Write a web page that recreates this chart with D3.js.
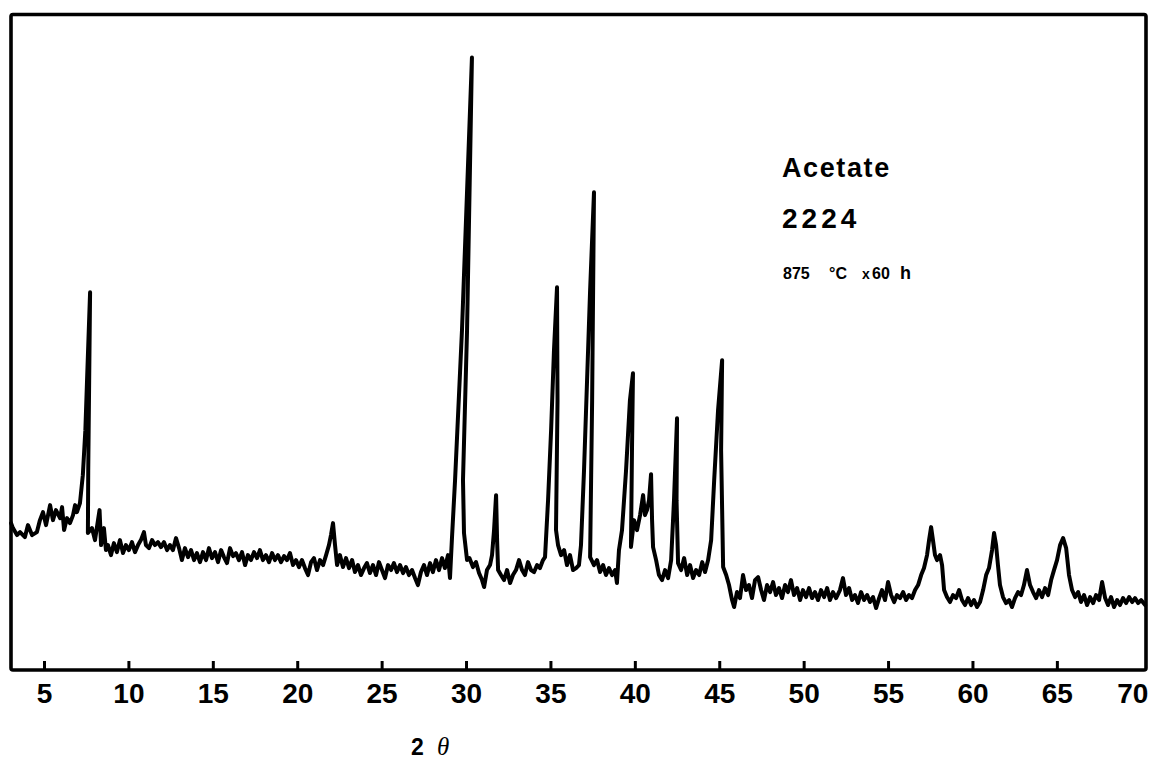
<!DOCTYPE html>
<html>
<head>
<meta charset="utf-8">
<script src="https://cdn.jsdelivr.net/npm/d3@7"></script>
<style>
  html, body { margin: 0; padding: 0; background: #fff; }
  svg { display: block; }
</style>
</head>
<body>
<svg id="chart" width="1156" height="762"></svg>
<script>
// ---- data ----
const twoTheta = [
  3.05,3.16,3.40,3.58,3.87,4.05,4.29,4.58,4.76,4.94,5.12,5.36,5.53,5.71,5.95,6.07,6.19,6.36,6.54,6.72,6.84,6.95,7.13,7.30,7.45,7.55,7.73,7.62,7.60,
  7.84,8.02,8.20,8.29,8.38,8.55,8.67,8.79,8.97,9.14,9.32,9.50,9.68,9.85,10.03,10.21,10.39,10.57,10.74,10.92,11.04,11.22,11.40,11.57,11.75,11.93,
  12.11,12.29,12.46,12.64,12.82,13.00,13.17,13.35,13.53,13.71,13.89,14.06,14.24,14.42,14.60,14.77,14.95,15.13,15.31,15.49,15.66,15.84,16.02,16.20,
  16.37,16.55,16.73,16.91,17.08,17.26,17.44,17.62,17.79,17.97,18.15,18.33,18.51,18.68,18.86,19.04,19.22,19.39,19.57,19.75,19.93,20.10,20.28,20.46,
  20.64,20.82,20.99,21.17,21.35,21.53,21.71,21.88,22.00,22.12,22.24,22.36,22.53,22.71,22.89,23.07,23.25,23.42,23.60,23.78,23.96,24.13,24.31,24.49,
  24.67,24.84,25.02,25.20,25.38,25.56,25.73,25.91,26.09,26.27,26.44,26.62,26.80,26.98,27.15,27.33,27.51,27.69,27.87,28.04,28.22,28.40,28.58,28.75,
  28.93,29.05,29.17,29.35,29.76,30.35,30.06,29.82,29.88,30.06,30.20,30.41,30.59,30.77,30.95,31.07,31.24,31.42,31.54,31.66,31.78,31.84,31.90,32.07,
  32.25,32.43,32.61,32.78,32.96,33.14,33.32,33.49,33.67,33.85,34.03,34.21,34.38,34.56,34.68,34.86,35.04,35.21,35.39,35.42,35.33,35.45,35.63,35.81,
  35.98,36.16,36.34,36.52,36.69,36.81,36.99,37.17,37.35,37.58,37.47,37.35,37.58,37.76,37.94,38.12,38.29,38.47,38.65,38.83,38.94,39.06,39.24,39.48,
  39.71,39.89,39.83,39.77,39.95,40.13,40.31,40.49,40.60,40.72,40.84,40.96,41.02,41.08,41.26,41.43,41.61,41.79,41.97,42.15,42.32,42.50,42.47,42.56,
  42.74,42.92,43.10,43.27,43.45,43.63,43.81,43.99,44.16,44.34,44.52,44.70,44.93,45.17,45.11,45.23,45.41,45.58,45.76,45.88,46.05,46.23,46.41,46.59,
  46.76,46.94,47.12,47.30,47.48,47.65,47.83,48.01,48.19,48.36,48.54,48.72,48.90,49.07,49.25,49.43,49.61,49.79,49.96,50.14,50.32,50.50,50.67,50.85,
  51.03,51.21,51.39,51.56,51.74,51.92,52.15,52.33,52.51,52.69,52.87,53.04,53.22,53.40,53.58,53.76,53.93,54.11,54.29,54.47,54.64,54.82,55.00,55.18,
  55.36,55.53,55.71,55.89,56.07,56.24,56.42,56.60,56.78,56.96,57.13,57.31,57.43,57.55,57.66,57.78,57.90,58.08,58.20,58.32,58.49,58.67,58.85,59.03,
  59.21,59.38,59.56,59.74,59.92,60.09,60.27,60.45,60.63,60.81,60.98,61.16,61.28,61.40,61.51,61.63,61.81,61.99,62.17,62.34,62.52,62.70,62.88,63.05,
  63.23,63.41,63.59,63.77,63.94,64.12,64.30,64.48,64.66,64.83,65.01,65.19,65.37,65.55,65.72,65.90,66.08,66.26,66.43,66.61,66.79,66.97,67.15,67.32,
  67.50,67.68,67.86,68.03,68.21,68.39,68.57,68.74,68.92,69.10,69.28,69.46,69.63,69.81,69.99,70.23
];
const intensity = [
  147,142,135,138,133,145,135,138,150,158,145,165,150,160,152,163,140,152,147,155,165,158,167,195,240,290,378,200,137,
  142,130,150,160,125,142,120,125,115,127,118,130,117,125,120,128,118,125,130,138,125,122,130,125,128,123,
  128,120,125,120,132,122,110,122,113,120,110,117,108,118,110,122,112,118,108,120,113,107,122,114,
  117,110,118,105,115,110,118,112,120,110,115,108,117,110,115,108,114,110,117,105,110,103,110,102,
  95,108,112,100,110,105,115,125,135,147,125,105,115,103,112,102,110,98,105,95,102,107,97,105,
  95,108,100,92,105,100,107,98,105,97,103,95,100,92,85,98,105,95,107,98,110,100,112,102,
  115,92,133,190,340,613,340,190,137,110,112,103,108,97,90,83,100,105,115,140,175,130,100,95,
  90,100,87,95,100,110,100,95,108,100,98,105,102,110,113,170,240,320,383,270,140,125,115,120,
  105,115,100,102,105,125,200,290,380,478,270,113,105,110,98,105,95,102,95,100,87,120,140,200,
  270,297,220,123,150,140,155,175,155,160,170,196,150,123,110,95,90,100,92,110,170,252,170,107,
  100,112,95,105,92,100,95,108,98,110,130,190,260,310,220,103,95,85,70,63,78,72,95,80,
  85,72,90,93,80,70,85,78,88,75,82,72,85,78,90,75,82,70,80,73,82,72,78,70,
  80,73,82,70,78,72,80,92,75,82,70,75,67,78,70,75,68,73,62,72,80,70,88,75,
  68,75,72,78,70,75,72,80,85,95,102,115,130,143,130,115,110,115,105,80,73,68,75,72,
  80,70,65,72,65,70,63,68,80,95,102,120,137,125,105,85,73,67,70,63,72,78,75,85,
  100,85,78,72,80,73,82,75,90,100,110,125,132,122,95,80,73,78,68,75,65,73,67,75,
  70,88,72,65,73,63,70,65,72,67,73,68,72,67,70,65
];
const xTickValues = [5,10,15,20,25,30,35,40,45,50,55,60,65,70];
const xDomain = [3.045, 70.28];
const yDomain = [0, 656];
const sampleLines = ["Acetate", "2224"];
const conditionParts = ["875", "°C", "x", "60", "h"];
const axisTitleParts = ["2", "θ"];

// ---- layout ----
const frame = { left: 11, right: 1146, top: 14.5, bottom: 670 };
const svg = d3.select("#chart");

const x = d3.scaleLinear().domain(xDomain).range([frame.left, frame.right]);
const y = d3.scaleLinear().domain(yDomain).range([frame.bottom, frame.top]);

const pts = twoTheta.map((t, i) => [t, intensity[i]]);

// trace
svg.append("path")
  .datum(pts)
  .attr("fill", "none")
  .attr("stroke", "#000")
  .attr("stroke-width", 4)
  .attr("stroke-linejoin", "round")
  .attr("stroke-linecap", "round")
  .attr("d", d3.line().x(d => x(d[0])).y(d => y(d[1])));

// frame
svg.append("rect")
  .attr("x", frame.left).attr("y", frame.top)
  .attr("width", frame.right - frame.left)
  .attr("height", frame.bottom - frame.top)
  .attr("rx", 2)
  .attr("fill", "none")
  .attr("stroke", "#000")
  .attr("stroke-width", 3.6);

// x axis
const xAxis = d3.axisBottom(x)
  .tickValues(xTickValues)
  .tickSizeInner(-9)
  .tickSizeOuter(0)
  .tickPadding(14)
  .tickFormat(d3.format("d"));

const gx = svg.append("g")
  .attr("transform", `translate(0,${frame.bottom})`)
  .call(xAxis);
gx.select(".domain").remove();
gx.selectAll(".tick line").attr("stroke", "#000").attr("stroke-width", 3);
gx.selectAll(".tick").filter(d => d === 70).select("line").remove();
gx.selectAll(".tick text")
  .attr("fill", "#000")
  .attr("y", 33)
  .attr("dy", 0)
  .style("font-family", "'Liberation Sans', Arial, sans-serif")
  .style("font-weight", "bold")
  .style("font-size", "28px");
gx.selectAll(".tick").filter(d => d === 70).select("text").attr("x", -9);

// axis title "2 θ"
const title = svg.append("text")
  .attr("x", 411).attr("y", 755)
  .attr("fill", "#000");
title.append("tspan")
  .style("font-family", "'Liberation Sans', Arial, sans-serif")
  .style("font-weight", "bold")
  .style("font-size", "23px")
  .text(axisTitleParts[0]);
title.append("tspan")
  .attr("x", 437)
  .style("font-family", "'Liberation Serif', 'Times New Roman', serif")
  .style("font-style", "italic")
  .style("font-size", "25px")
  .text(axisTitleParts[1]);

// annotations
const annFont = "'Liberation Sans', Arial, sans-serif";
svg.append("text")
  .attr("x", 782).attr("y", 177)
  .style("font-family", annFont).style("font-weight", "bold")
  .style("font-size", "27px").style("letter-spacing", "1.6px")
  .text(sampleLines[0]);
svg.append("text")
  .attr("x", 782).attr("y", 228)
  .style("font-family", annFont).style("font-weight", "bold")
  .style("font-size", "28px").style("letter-spacing", "4px")
  .text(sampleLines[1]);

const cond = svg.append("text")
  .attr("y", 279)
  .style("font-family", annFont).style("font-weight", "bold")
  .style("font-size", "16px");
const condX = [783, 829, 862, 872, 900];
conditionParts.forEach((s, i) => {
  cond.append("tspan").attr("x", condX[i])
    .style("font-size", i === 2 ? "14px" : (i === 4 ? "18px" : "16px"))
    .text(s);
});
</script>
</body>
</html>
